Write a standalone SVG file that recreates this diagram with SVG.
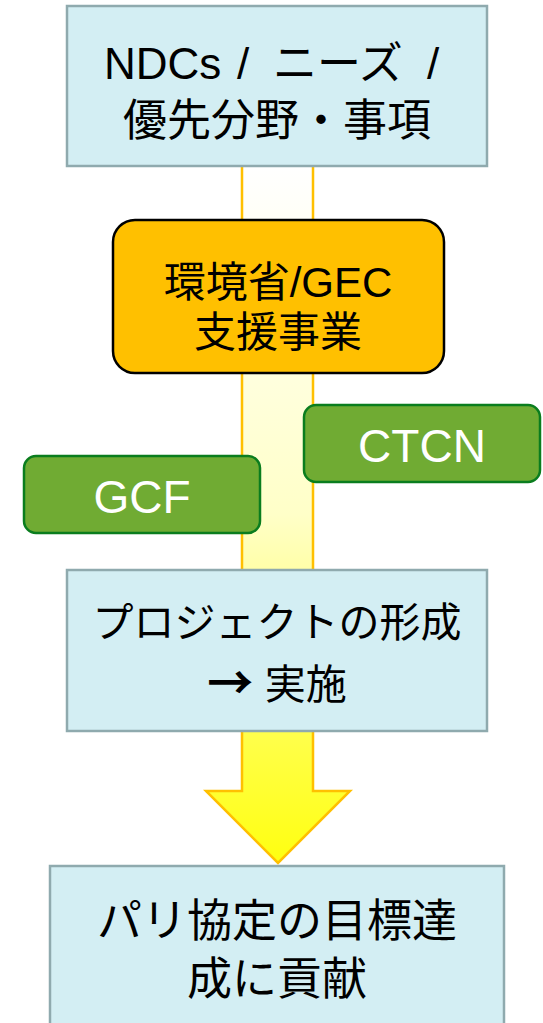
<svg xmlns="http://www.w3.org/2000/svg" width="543" height="1023" viewBox="0 0 543 1023">
<style>
text{font-family:"Liberation Sans","Noto Sans CJK JP",sans-serif;text-anchor:middle;fill:#000}
.box{fill:#D3EEF3;stroke:#8FAAAE;stroke-width:2.5}
.green{fill:#70AB33;stroke:#0A7D1E;stroke-width:2.5}
.wt{fill:#fff;font-size:46px}
</style>
<defs>
<linearGradient id="ag" x1="0" y1="166" x2="0" y2="863" gradientUnits="userSpaceOnUse">
<stop offset="0" stop-color="#FFFFFF"/>
<stop offset="0.5" stop-color="#FFFFC8"/>
<stop offset="0.8" stop-color="#FFFF50"/>
<stop offset="1" stop-color="#FFFF10"/>
</linearGradient>
</defs>
<g id="connectors">
<polygon points="242,160 313,160 313,791 350,791 278,863 206,791 242,791" fill="url(#ag)" stroke="#FFC000" stroke-width="2.5"/>
</g>
<g id="ndcs">
<rect class="box" x="67" y="6" width="420" height="160"/>
<text y="79" font-size="44" style="text-anchor:start"><tspan x="104">NDCs</tspan><tspan x="237">/</tspan><tspan x="273">ニーズ</tspan><tspan x="427">/</tspan></text>
<text x="277" y="136" font-size="44">優先分野・事項</text>
</g>
<g id="moe">
<rect x="113" y="220" width="331" height="153" rx="22" fill="#FFC000" stroke="#000" stroke-width="2.5"/>
<text x="278" y="297" font-size="42">環境省/GEC</text>
<text x="278" y="347" font-size="42">支援事業</text>
</g>
<g id="ctcn">
<rect class="green" x="304" y="405" width="236" height="77" rx="12"/>
<text class="wt" x="422" y="462">CTCN</text>
</g>
<g id="gcf">
<rect class="green" x="24" y="456" width="236" height="77" rx="12"/>
<text class="wt" x="142" y="513">GCF</text>
</g>
<g id="project">
<rect class="box" x="67" y="570" width="420" height="161"/>
<text x="277" y="637" font-size="41">プロジェクトの形成</text>
<text x="277" y="699" font-size="41"><tspan font-family="Noto Sans CJK JP" font-size="46" font-weight="bold">→</tspan> 実施</text>
</g>
<g id="paris">
<rect class="box" x="50" y="866" width="454" height="180"/>
<text x="277" y="937" font-size="45">パリ協定の目標達</text>
<text x="277" y="995" font-size="45">成に貢献</text>
</g>
</svg>
